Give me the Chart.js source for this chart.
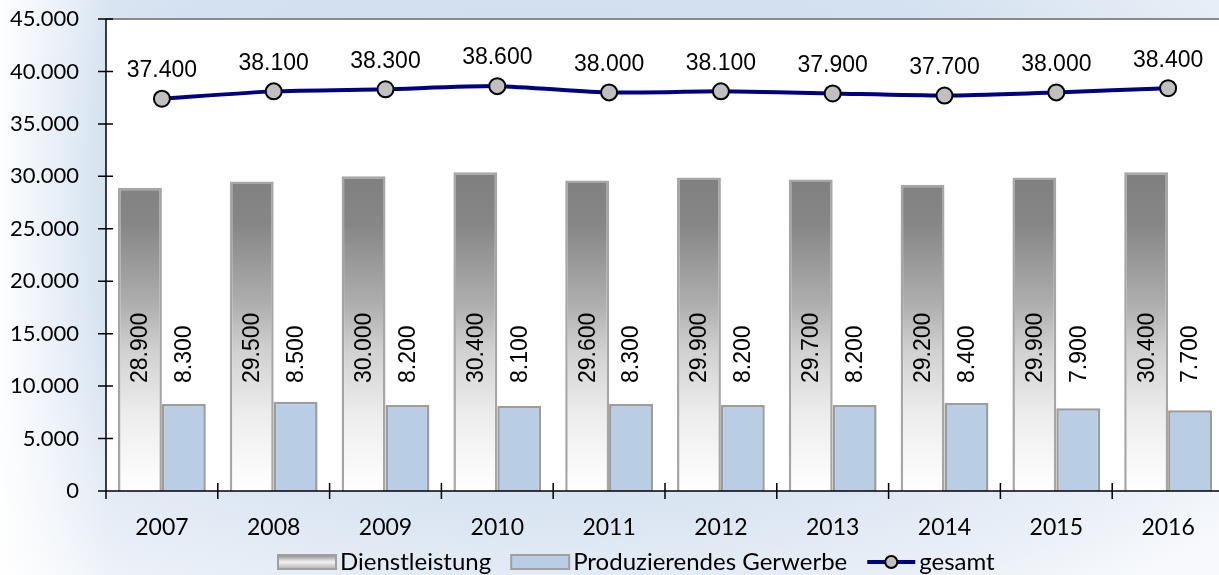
<!DOCTYPE html>
<html>
<head>
<meta charset="utf-8">
<script src="https://cdn.jsdelivr.net/npm/chart.js@4"></script>
<style>
  html, body {
    margin: 0;
    padding: 0;
  }
  body {
    width: 1219px;
    height: 575px;
    overflow: hidden;
    background:
      linear-gradient(to right, rgba(255,255,255,0.95) 0px, rgba(255,255,255,0) 110px),
      radial-gradient(ellipse 75% 85% at 45% 35%, #cbdcee 0%, #d4e1f0 55%, #e9eff7 85%, #f7f9fc 100%);
  }
  #wrap {
    position: relative;
    width: 1224px;
    height: 575px;
  }
</style>
</head>
<body>
<div id="wrap"><canvas id="chart"></canvas></div>
<script>
// data
const years = ["2007", "2008", "2009", "2010", "2011", "2012", "2013", "2014", "2015", "2016"];
const dienstleistung = [28900, 29500, 30000, 30400, 29600, 29900, 29700, 29200, 29900, 30400];
const produzierendes = [8300, 8500, 8200, 8100, 8300, 8200, 8200, 8400, 7900, 7700];
const gesamt = [37400, 38100, 38300, 38600, 38000, 38100, 37900, 37700, 38000, 38400];
const yTicks = [0, 5000, 10000, 15000, 20000, 25000, 30000, 35000, 40000, 45000];

const seriesNames = ["Dienstleistung", "Produzierendes Gerwerbe", "gesamt"];

const LATO = "Lato, 'Liberation Sans', sans-serif";
const ARIAL = "'Liberation Sans', Arial, sans-serif";

// value where the rotated bar labels start
const BAR_LABEL_BASE = 10300;

function fmt(v) {
  return v.toLocaleString("de-DE");
}

// grey gradient for the Dienstleistung bars
function greyFill(context) {
  const chart = context.chart;
  const area = chart.chartArea;
  if (!area) {
    return "#aaaaaa";
  }
  const y = chart.scales.y;
  const g = chart.ctx.createLinearGradient(0, y.getPixelForValue(30000), 0, area.bottom);
  g.addColorStop(0, "#808080");
  g.addColorStop(0.15, "#868686");
  g.addColorStop(0.4, "#adadad");
  g.addColorStop(0.55, "#d0d0d0");
  g.addColorStop(0.75, "#ececec");
  g.addColorStop(1, "#ffffff");
  return g;
}

// white plot area + top border
const plotBackground = {
  id: "plotBackground",
  beforeDraw(chart) {
    const { ctx, chartArea } = chart;
    ctx.save();
    ctx.fillStyle = "#ffffff";
    ctx.fillRect(chartArea.left, chartArea.top, chartArea.right - chartArea.left, chartArea.bottom - chartArea.top);
    ctx.strokeStyle = "#8a8a8a";
    ctx.lineWidth = 2;
    ctx.beginPath();
    ctx.moveTo(chartArea.left, chartArea.top);
    ctx.lineTo(chartArea.right, chartArea.top);
    ctx.stroke();
    ctx.restore();
  },
};

// axis lines with crossing tick marks
const axisLines = {
  id: "axisLines",
  afterDatasetsDraw(chart) {
    const { ctx, chartArea, scales } = chart;
    ctx.save();
    ctx.strokeStyle = "#000000";
    ctx.lineWidth = 1.5;
    ctx.beginPath();
    ctx.moveTo(chartArea.left, chartArea.top);
    ctx.lineTo(chartArea.left, chartArea.bottom);
    ctx.lineTo(chartArea.right, chartArea.bottom);
    yTicks.forEach((t) => {
      const py = scales.y.getPixelForValue(t);
      ctx.moveTo(chartArea.left - 8, py);
      ctx.lineTo(chartArea.left + 7, py);
    });
    for (let i = 0; i <= years.length; i++) {
      const px = scales.x.getPixelForValue(i - 0.5);
      ctx.moveTo(px, chartArea.bottom - 8);
      ctx.lineTo(px, chartArea.bottom + 8);
    }
    ctx.stroke();
    ctx.restore();
  },
};

// value labels
const valueLabels = {
  id: "valueLabels",
  afterDraw(chart) {
    const { ctx, scales } = chart;
    ctx.save();
    ctx.fillStyle = "#000000";
    ctx.font = "23px " + ARIAL;
    const baseY = scales.y.getPixelForValue(BAR_LABEL_BASE);
    [0, 1].forEach((di) => {
      const meta = chart.getDatasetMeta(di);
      const values = chart.data.datasets[di].data;
      meta.data.forEach((bar, i) => {
        ctx.save();
        ctx.translate(bar.x, baseY);
        ctx.rotate(-Math.PI / 2);
        ctx.textAlign = "left";
        ctx.textBaseline = "middle";
        ctx.fillText(fmt(values[i]), 0, 1);
        ctx.restore();
      });
    });
    const lineMeta = chart.getDatasetMeta(2);
    ctx.textAlign = "center";
    ctx.textBaseline = "middle";
    lineMeta.data.forEach((pt, i) => {
      ctx.fillText(fmt(gesamt[i]), pt.x, pt.y - 28);
    });
    ctx.restore();
  },
};

// legend at the bottom
const bottomLegend = {
  id: "bottomLegend",
  afterDraw(chart) {
    const { ctx } = chart;
    const cy = 562;
    ctx.save();
    ctx.font = "24px " + LATO;
    ctx.textBaseline = "middle";
    ctx.textAlign = "left";
    let x = 278;

    // Dienstleistung
    let g = ctx.createLinearGradient(0, cy - 7, 0, cy + 7);
    g.addColorStop(0, "#8a8a8a");
    g.addColorStop(0.5, "#f4f4f4");
    g.addColorStop(1, "#b0b0b0");
    ctx.fillStyle = g;
    ctx.fillRect(x, cy - 7, 58, 14);
    ctx.strokeStyle = "#a0a0a0";
    ctx.lineWidth = 2;
    ctx.strokeRect(x, cy - 7, 58, 14);
    x += 62;
    ctx.fillStyle = "#000000";
    ctx.fillText(seriesNames[0], x, cy);
    x += ctx.measureText(seriesNames[0]).width + 20;

    // Produzierendes Gerwerbe
    ctx.fillStyle = "#b9cde5";
    ctx.fillRect(x, cy - 7, 58, 14);
    ctx.strokeStyle = "#a0a0a0";
    ctx.strokeRect(x, cy - 7, 58, 14);
    x += 62;
    ctx.fillStyle = "#000000";
    ctx.fillText(seriesNames[1], x, cy);
    x += ctx.measureText(seriesNames[1]).width + 20;

    // gesamt
    ctx.strokeStyle = "#000080";
    ctx.lineWidth = 4;
    ctx.beginPath();
    ctx.moveTo(x, cy);
    ctx.lineTo(x + 48, cy);
    ctx.stroke();
    ctx.beginPath();
    ctx.arc(x + 24, cy, 6, 0, Math.PI * 2);
    ctx.fillStyle = "#c0c0c0";
    ctx.fill();
    ctx.lineWidth = 2;
    ctx.strokeStyle = "#000000";
    ctx.stroke();
    x += 52;
    ctx.fillStyle = "#000000";
    ctx.fillText(seriesNames[2], x, cy);
    ctx.restore();
  },
};

const chart = new Chart(document.getElementById("chart"), {
  type: "bar",
  data: {
    labels: years,
    datasets: [
      {
        label: seriesNames[0],
        data: dienstleistung,
        backgroundColor: greyFill,
        borderColor: "#a6a6a6",
        borderWidth: 2.5,
        borderSkipped: "bottom",
        order: 1,
      },
      {
        label: seriesNames[1],
        data: produzierendes,
        backgroundColor: "#b9cde5",
        borderColor: "#9c9c9c",
        borderWidth: 2.5,
        borderSkipped: "bottom",
        order: 1,
      },
      {
        type: "line",
        label: seriesNames[2],
        data: gesamt,
        borderColor: "#000080",
        borderWidth: 4,
        tension: 0.2,
        pointRadius: 8,
        pointHoverRadius: 8,
        pointBackgroundColor: "#c0c0c0",
        pointBorderColor: "#000000",
        pointBorderWidth: 2,
        order: 0,
      },
    ],
  },
  options: {
    responsive: true,
    maintainAspectRatio: false,
    animation: false,
    layout: {
      autoPadding: false,
      padding: { top: 19, left: 0, right: 0, bottom: 0 },
    },
    datasets: {
      bar: {
        barPercentage: 1.0,
        categoryPercentage: 0.785,
      },
    },
    scales: {
      x: {
        grid: { display: false },
        border: { display: false },
        ticks: {
          color: "#000000",
          font: { family: LATO, size: 23 },
          padding: 15,
          maxRotation: 0,
        },
        afterFit(scale) {
          scale.height = 84;
          scale.paddingLeft = 0;
          scale.paddingRight = 0;
        },
      },
      y: {
        min: 0,
        max: 45000,
        grid: { display: false },
        border: { display: false },
        ticks: {
          stepSize: 5000,
          color: "#000000",
          font: { family: LATO, size: 22 },
          padding: 19,
          callback: (v) => fmt(v),
        },
        afterFit(scale) {
          scale.width = 106;
          scale.paddingTop = 0;
          scale.paddingBottom = 0;
        },
      },
    },
    plugins: {
      legend: { display: false },
      tooltip: { enabled: false },
    },
  },
  plugins: [plotBackground, axisLines, valueLabels, bottomLegend],
});
</script>
</body>
</html>
